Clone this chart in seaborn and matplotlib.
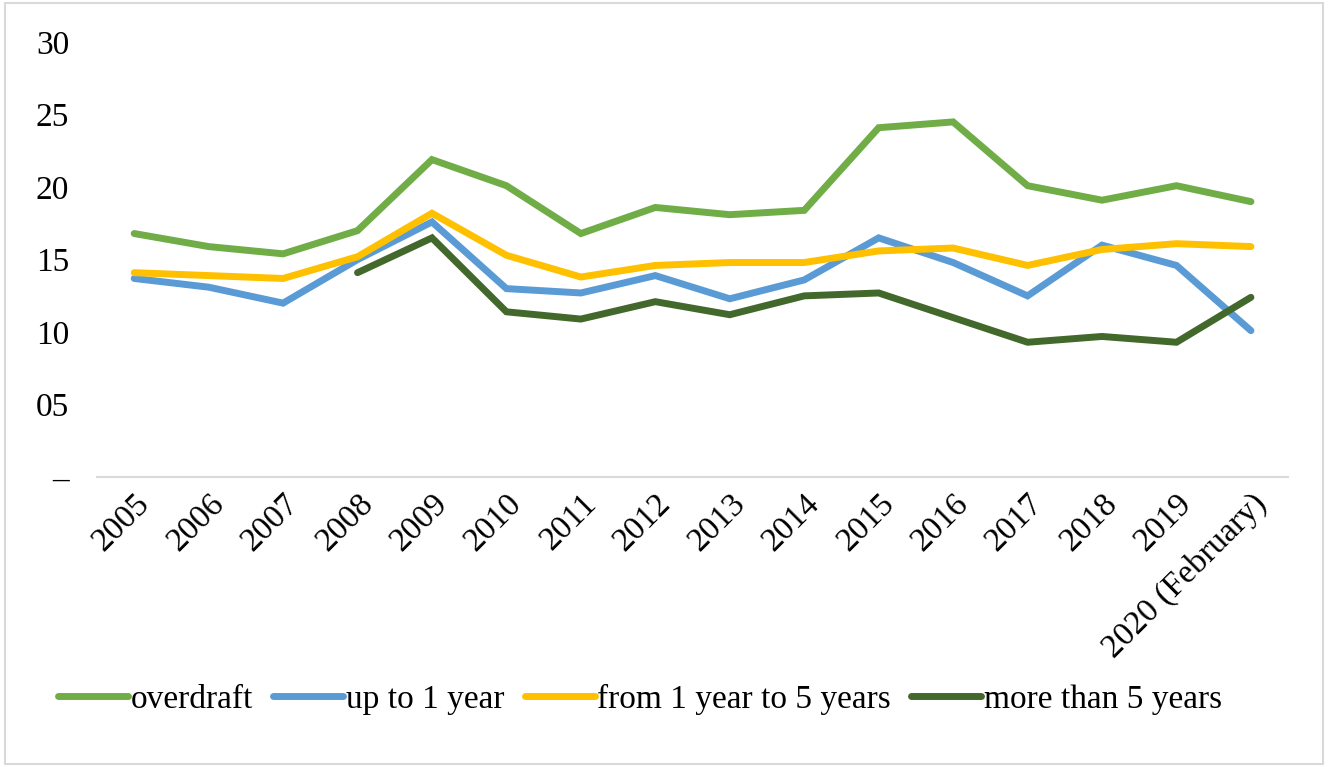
import numpy as np
import pandas as pd
import matplotlib
matplotlib.use('Agg')
import matplotlib.pyplot as plt
import matplotlib.patches as patches
import seaborn as sns


# data
years = ['2005', '2006', '2007', '2008', '2009', '2010', '2011', '2012',
         '2013', '2014', '2015', '2016', '2017', '2018', '2019', '2020 (February)']
overdraft = [16.8, 15.9, 15.4, 17.0, 21.9, 20.1, 16.8, 18.6,
             18.1, 18.4, 24.1, 24.5, 20.1, 19.1, 20.1, 19.0]
up_to_1 = [13.7, 13.1, 12.0, 15.0, 17.6, 13.0, 12.7, 13.9,
           12.3, 13.6, 16.5, 14.8, 12.5, 16.0, 14.6, 10.1]
from_1_to_5 = [14.1, 13.9, 13.7, 15.2, 18.2, 15.3, 13.8, 14.6,
               14.8, 14.8, 15.6, 15.8, 14.6, 15.7, 16.1, 15.9]
more_than_5 = [np.nan, np.nan, np.nan, 14.1, 16.5, 11.4, 10.9, 12.1,
               11.2, 12.5, 12.7, 11.0, 9.3, 9.7, 9.3, 12.4]

series_names = ['overdraft', 'up to 1 year', 'from 1 year to 5 years', 'more than 5 years']
colors = ['#70AD47', '#5B9BD5', '#FFC000', '#43682B']
y_tick_labels = ['–', '05', '10', '15', '20', '25', '30']

# long form table for seaborn
wide = pd.DataFrame({
    'pos': np.arange(len(years)),
    series_names[0]: overdraft,
    series_names[1]: up_to_1,
    series_names[2]: from_1_to_5,
    series_names[3]: more_than_5,
})
df = wide.melt(id_vars='pos', var_name='series', value_name='value').dropna()

sns.set_style('white')
plt.rcParams['font.family'] = ['Liberation Serif', 'DejaVu Serif']
plt.rcParams['text.color'] = 'black'
plt.rcParams['xtick.color'] = 'black'
plt.rcParams['ytick.color'] = 'black'

fig = plt.figure(figsize=(13.28, 7.67), dpi=100)
ax = fig.add_axes([0.073, 0.378, 0.897, 0.567])

sns.lineplot(data=df, x='pos', y='value', hue='series', hue_order=series_names,
             palette=dict(zip(series_names, colors)), linewidth=5,
             ax=ax, legend=False, sort=True)
for line in ax.lines:
    line.set_solid_capstyle('round')
    line.set_solid_joinstyle('miter')

ax.set_xlim(-0.5, len(years) - 0.5)
ax.set_ylim(0, 30)
ax.set_xticks(np.arange(len(years)))
ax.set_xticklabels(years, rotation=45, ha='right', rotation_mode='anchor', fontsize=24)
ax.set_yticks(np.arange(0, 31, 5))
ax.set_yticklabels(y_tick_labels, fontsize=24)
ax.tick_params(axis='y', length=0, pad=20)
ax.tick_params(axis='x', length=0, pad=8)
ax.set_xlabel('')
ax.set_ylabel('')

for side in ['top', 'right', 'left']:
    ax.spines[side].set_visible(False)
ax.spines['bottom'].set_color('#d9d9d9')
ax.spines['bottom'].set_linewidth(1.5)

# legend along the bottom
handles = [plt.Line2D([0], [0], color=c, lw=5, solid_capstyle='round') for c in colors]
fig.legend(handles, series_names, loc='center', bbox_to_anchor=(0.482, 0.088),
           ncol=4, frameon=False, fontsize=24, handlelength=2.1,
           handletextpad=0.08, columnspacing=0.6)

# light border round the whole chart
fig.patches.append(patches.Rectangle((0.004, 0.004), 0.992, 0.992, transform=fig.transFigure,
                                     fill=False, edgecolor='#d9d9d9', linewidth=1.5))

fig.savefig('out.png', dpi=100)
